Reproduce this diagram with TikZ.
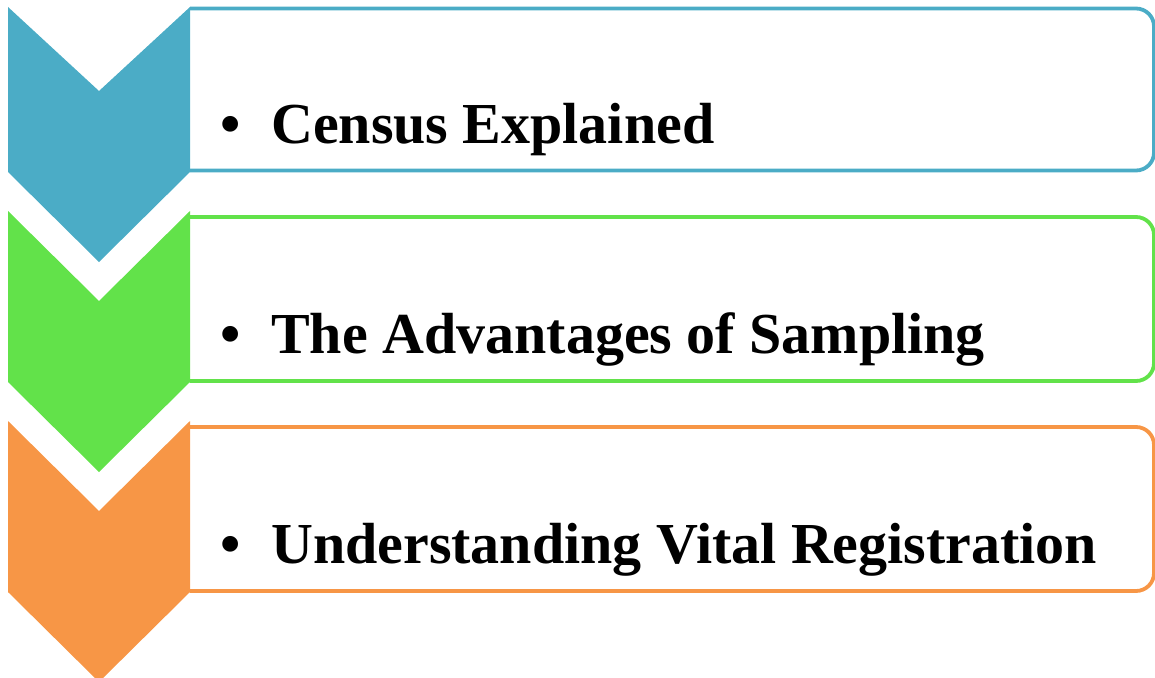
\documentclass[tikz,border=0pt]{standalone}
\usepackage{fontspec}
\setmainfont{Liberation Serif}
\definecolor{cblue}{HTML}{4BACC6}
\definecolor{cgreen}{HTML}{62E24A}
\definecolor{corange}{HTML}{F79646}
\tikzset{
  framebox/.style={line width=3.8pt, rounded corners=18pt},
  itemtext/.style={anchor=base west, inner sep=0pt, font=\fontsize{58}{60}\selectfont\bfseries}
}
\begin{document}
\begin{tikzpicture}[x=1pt,y=-1pt]
\useasboundingbox (0,0) rectangle (1155,677);
% frames
\draw[framebox, cblue]   (190,8.5) -- (1154,8.5) -- (1154,170.5) -- (190,170.5);
\draw[framebox, cgreen]  (190,217) -- (1154,217) -- (1154,381) -- (190,381);
\draw[framebox, corange] (190,427) -- (1154,427) -- (1154,591) -- (190,591);
% chevrons
\fill[cblue]   (8,7) -- (99,91) -- (190,7) -- (190,172) -- (99,262) -- (8,172) -- cycle;
\fill[cgreen]  (8,211) -- (99,301) -- (190,211) -- (190,382) -- (99,472) -- (8,382) -- cycle;
\fill[corange] (8,421) -- (99,511) -- (190,421) -- (190,592) -- (99,682) -- (8,592) -- cycle;
% texts
\node[itemtext] (t1) at (220,143) {\makebox[51pt][l]{•}Census Explained};
\node[itemtext] (t2) at (220,353) {\makebox[51pt][l]{•}The Advantages of Sampling};
\node[itemtext] (t3) at (220,563) {\makebox[51pt][l]{•}Understanding Vital Registration};
\end{tikzpicture}
\end{document}
